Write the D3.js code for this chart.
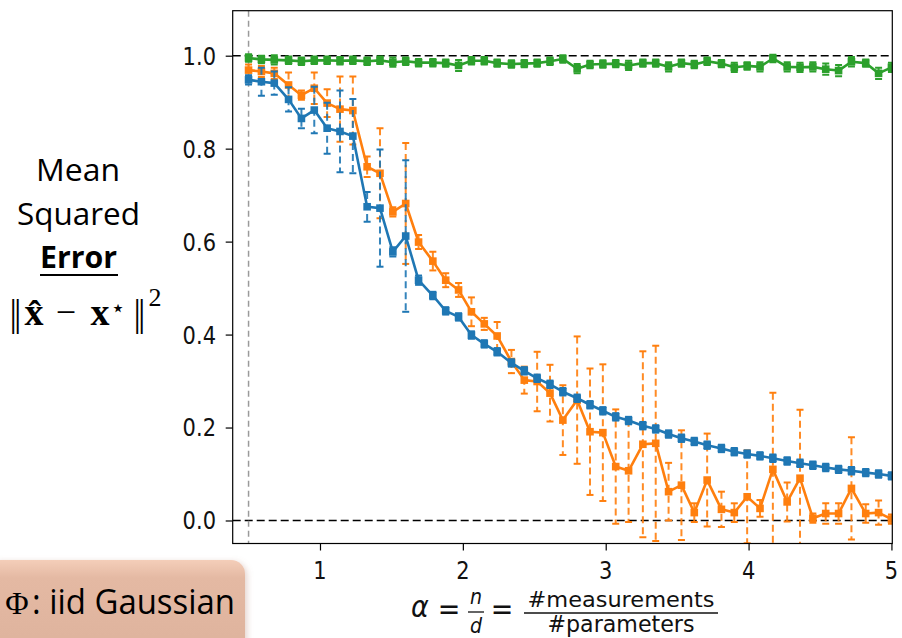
<!DOCTYPE html>
<html><head><meta charset="utf-8">
<script src="https://cdn.jsdelivr.net/npm/d3@7"></script>
<style>body{margin:0;background:#fff}svg{display:block}</style>
</head><body><svg id="c" width="902" height="638"></svg>
<script>
// ---- data ----
const alpha = [0.50,0.59,0.68,0.78,0.87,0.96,1.05,1.14,1.23,1.33,1.42,1.51,1.60,1.69,1.79,1.88,1.97,2.06,2.15,2.24,
               2.34,2.43,2.52,2.61,2.70,2.80,2.89,2.98,3.07,3.16,3.26,3.35,3.44,3.53,3.62,3.71,3.81,3.90,3.99,4.08,
               4.17,4.27,4.36,4.45,4.54,4.63,4.72,4.82,4.91,5.00];
const blueMSE = [0.948,0.944,0.941,0.906,0.865,0.883,0.844,0.837,0.827,0.675,0.672,0.578,0.612,0.517,0.484,0.451,0.438,0.399,0.380,0.363,
                 0.339,0.322,0.306,0.293,0.277,0.263,0.249,0.236,0.223,0.215,0.204,0.197,0.186,0.177,0.170,0.162,0.155,0.148,0.143,0.139,
                 0.134,0.128,0.123,0.119,0.114,0.110,0.107,0.103,0.100,0.096];
const blueErr = [0.010,0.030,0.025,0.026,0.021,0.050,0.055,0.088,0.080,0.032,0.126,0.010,0.163,0.010,0.008,0.008,0.008,0.008,0.008,0.008,
                 0.008,0.008,0.008,0.008,0.008,0.008,0.008,0.008,0.008,0.008,0.008,0.008,0.008,0.008,0.008,0.008,0.008,0.008,0.008,0.008,
                 0.008,0.008,0.008,0.008,0.008,0.008,0.008,0.008,0.008,0.008];
const orangeMSE = [0.969,0.966,0.962,0.937,0.915,0.930,0.898,0.885,0.882,0.761,0.747,0.664,0.682,0.599,0.558,0.517,0.496,0.449,0.423,0.397,
                   0.342,0.302,0.299,0.274,0.216,0.259,0.191,0.189,0.116,0.107,0.164,0.166,0.062,0.076,0.017,0.087,0.024,0.017,0.051,0.026,
                   0.110,0.040,0.091,0.005,0.015,0.015,0.069,0.015,0.017,0.003];
const orangeErr = [0.012,0.012,0.012,0.027,0.010,0.034,0.030,0.070,0.073,0.022,0.097,0.010,0.130,0.015,0.020,0.015,0.015,0.031,0.013,0.030,
                   0.025,0.029,0.064,0.061,0.075,0.137,0.136,0.147,0.123,0.110,0.200,0.210,0.062,0.118,0.020,0.100,0.038,0.020,0.100,0.018,
                   0.165,0.042,0.147,0.010,0.022,0.022,0.110,0.020,0.026,0.010];
const greenMSE = [0.995,0.992,0.991,0.990,0.988,0.990,0.990,0.989,0.990,0.988,0.990,0.986,0.988,0.985,0.985,0.984,0.979,0.989,0.989,0.984,
                  0.982,0.983,0.984,0.988,0.993,0.972,0.981,0.982,0.983,0.979,0.984,0.984,0.976,0.984,0.981,0.988,0.983,0.975,0.978,0.976,
                  0.994,0.976,0.975,0.976,0.971,0.968,0.987,0.984,0.962,0.975];
const greenErr = [0.008,0.008,0.010,0.008,0.008,0.008,0.008,0.008,0.008,0.008,0.008,0.010,0.008,0.008,0.008,0.008,0.012,0.008,0.008,0.008,
                  0.008,0.008,0.008,0.008,0.008,0.010,0.008,0.008,0.008,0.010,0.008,0.008,0.010,0.008,0.008,0.008,0.008,0.010,0.008,0.010,
                  0.008,0.010,0.010,0.010,0.012,0.012,0.010,0.008,0.012,0.010];
const xTicks = [1,2,3,4,5];
const yTicks = [0.0,0.2,0.4,0.6,0.8,1.0];
const refLevels = [0,1];
const threshold = 0.5;
const colors = {blue:"#1f77b4", orange:"#ff7f0e", green:"#2ca02c"};

// ---- layout ----
const svg = d3.select('#c');
const L = 232.7, R = 892.3, T = 10.7, B = 543.5;
const x = d3.scaleLinear().domain([0.389, 5.006]).range([L, R]);
const y = d3.scaleLinear().domain([-0.0495, 1.0968]).range([B, T]);
const defs = svg.append('defs');
defs.append('clipPath').attr('id','clip').append('rect').attr('x',L).attr('y',T).attr('width',R-L).attr('height',B-T);

const plot = svg.append('g').attr('clip-path','url(#clip)');

// reference lines
plot.selectAll('line.ref').data(refLevels).join('line')
  .attr('x1',L).attr('x2',R).attr('y1',d=>y(d)).attr('y2',d=>y(d))
  .attr('stroke','#000').attr('stroke-width',1.5).attr('stroke-dasharray','8,4');
plot.append('line').attr('x1',x(threshold)).attr('x2',x(threshold)).attr('y1',T).attr('y2',B)
  .attr('stroke','#9a9a9a').attr('stroke-width',1.5).attr('stroke-dasharray','6,4');

function series(vals, errs, color){
  const g = plot.append('g');
  g.selectAll('line.eb').data(vals).join('line')
    .attr('x1',(d,i)=>x(alpha[i])).attr('x2',(d,i)=>x(alpha[i]))
    .attr('y1',(d,i)=>y(d+errs[i])).attr('y2',(d,i)=>y(d-errs[i]))
    .attr('stroke',color).attr('stroke-width',2).attr('stroke-dasharray','7,4').attr('opacity',0.9);
  ['+','-'].forEach(s=>{
    g.selectAll('line.cap'+(s==='+'?'t':'b')).data(vals).join('line')
      .attr('x1',(d,i)=>x(alpha[i])-3.5).attr('x2',(d,i)=>x(alpha[i])+3.5)
      .attr('y1',(d,i)=>y(s==='+'?d+errs[i]:d-errs[i])).attr('y2',(d,i)=>y(s==='+'?d+errs[i]:d-errs[i]))
      .attr('stroke',color).attr('stroke-width',2);
  });
  g.append('path').datum(vals)
    .attr('d', d3.line().x((d,i)=>x(alpha[i])).y(d=>y(d)))
    .attr('fill','none').attr('stroke',color).attr('stroke-width',2.6).attr('stroke-linejoin','round');
  g.selectAll('rect.m').data(vals).join('rect')
    .attr('x',(d,i)=>x(alpha[i])-3.8).attr('y',d=>y(d)-3.8).attr('width',7.6).attr('height',7.6)
    .attr('fill',color);
}
series(orangeMSE, orangeErr, colors.orange);
series(blueMSE, blueErr, colors.blue);
series(greenMSE, greenErr, colors.green);

// frame
svg.append('rect').attr('x',L).attr('y',T).attr('width',R-L).attr('height',B-T)
  .attr('fill','none').attr('stroke','#000').attr('stroke-width',1.2);

// axes (ticks only; labels drawn separately for stretch)
const ax = svg.append('g').attr('transform',`translate(0,${B})`)
  .call(d3.axisBottom(x).tickValues(xTicks).tickSize(7).tickFormat(''));
const ay = svg.append('g').attr('transform',`translate(${L},0)`)
  .call(d3.axisLeft(y).tickValues(yTicks).tickSize(7).tickFormat(''));
[ax,ay].forEach(a=>{a.select('.domain').remove(); a.selectAll('line').attr('stroke','#000').attr('stroke-width',1.2);});

const FS = 1.18;
function stxt(px, py, str, opt){
  const t = svg.append('text').attr('transform',`translate(${px},${py}) scale(1,${opt.sy||1})`)
    .attr('font-family',opt.ff||'DejaVu Sans').attr('font-size',opt.fs||21)
    .attr('text-anchor',opt.anchor||'start').attr('fill',opt.fill||'#111').text(str);
  if(opt.dy) t.attr('dy',opt.dy);
  if(opt.italic) t.attr('font-style','italic');
  if(opt.bold) t.attr('font-weight','bold');
  if(opt.ls) t.attr('letter-spacing',opt.ls);
  if(opt.len) t.attr('textLength',opt.len).attr('lengthAdjust','spacingAndGlyphs');
  return t;
}
yTicks.forEach(v=>stxt(216, y(v), d3.format('.1f')(v), {anchor:'end', dy:'0.36em', sy:FS}));
xTicks.forEach(v=>stxt(x(v), 570.5, String(v), {anchor:'middle', dy:'0.36em', sy:FS}));

// x-axis label (mathtext-like)
stxt(411, 617, 'α', {fs:27, italic:true, sy:1.12});
stxt(449, 619, '=', {fs:27, anchor:'middle', sy:1.12});
stxt(476, 604, 'n', {fs:19, italic:true, anchor:'middle', sy:1.15});
svg.append('line').attr('x1',468).attr('x2',484).attr('y1',612).attr('y2',612).attr('stroke','#111').attr('stroke-width',1.3);
stxt(476, 633, 'd', {fs:19, italic:true, anchor:'middle', sy:1.15});
stxt(502, 619, '=', {fs:27, anchor:'middle', sy:1.12});
stxt(621, 607, '#measurements', {fs:21, anchor:'middle', len:187});
svg.append('line').attr('x1',524).attr('x2',718).attr('y1',613).attr('y2',613).attr('stroke','#111').attr('stroke-width',1.3);
stxt(621, 632, '#parameters', {fs:21, anchor:'middle', sy:1.1, len:147});

// y-axis label block
const CAL = 'Open Sans';
stxt(78, 181, 'Mean', {ff:CAL, fs:31, anchor:'middle', fill:'#000', len:84});
stxt(78.5, 225, 'Squared', {ff:CAL, fs:31, anchor:'middle', fill:'#000', len:123});
stxt(78.5, 268, 'Error', {ff:CAL, fs:30, anchor:'middle', fill:'#000', bold:true, len:77});
svg.append('line').attr('x1',40).attr('x2',118).attr('y1',275).attr('y2',275).attr('stroke','#000').attr('stroke-width',2);
const SER = 'Liberation Serif, DejaVu Serif, serif';
stxt(14, 326, '||', {ff:SER, fs:37, anchor:'middle', fill:'#000', ls:-3});
stxt(34, 325, 'x\u0302', {ff:SER, fs:38, anchor:'middle', fill:'#000', bold:true});
stxt(66, 324, '−', {ff:SER, fs:36, anchor:'middle', fill:'#000'});
stxt(100, 325, 'x', {ff:SER, fs:38, anchor:'middle', fill:'#000', bold:true});
stxt(118, 316, '⋆', {ff:'DejaVu Sans', fs:24, anchor:'middle', fill:'#000'});
stxt(138, 326, '||', {ff:SER, fs:37, anchor:'middle', fill:'#000', ls:-3});
stxt(155, 306, '2', {ff:SER, fs:26, anchor:'middle', fill:'#000'});

// annotation box
const grad = defs.append('linearGradient').attr('id','bg').attr('x1',0).attr('y1',0).attr('x2',0).attr('y2',1);
grad.append('stop').attr('offset',0).attr('stop-color','#f4ceb9');
grad.append('stop').attr('offset',0.18).attr('stop-color','#e4b9a3');
grad.append('stop').attr('offset',1).attr('stop-color','#ddb29c');
const flt = defs.append('filter').attr('id','sh').attr('x','-20%').attr('y','-20%').attr('width','140%').attr('height','140%');
flt.append('feDropShadow').attr('dx',2).attr('dy',2).attr('stdDeviation',3).attr('flood-color','#b08070').attr('flood-opacity',0.35);
svg.append('rect').attr('x',-14).attr('y',560).attr('width',259).attr('height',100).attr('rx',14)
  .attr('fill','url(#bg)').attr('filter','url(#sh)');
stxt(17, 614, 'Φ', {ff:SER, fs:32, anchor:'middle', fill:'#000'});
stxt(32, 614, ': iid Gaussian', {ff:CAL, fs:35, fill:'#000', len:203});
</script></body></html>
